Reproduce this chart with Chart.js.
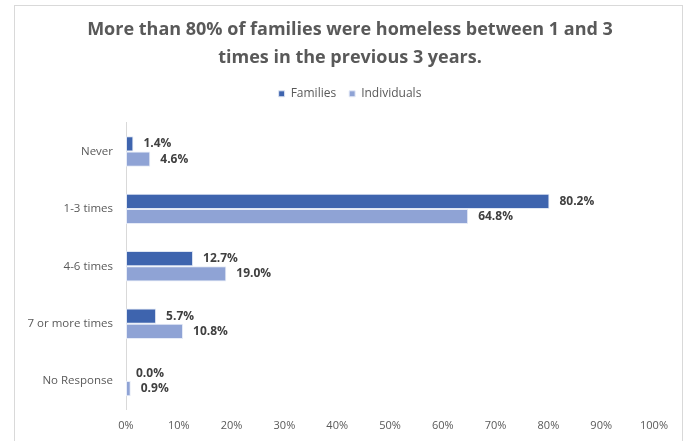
<!DOCTYPE html>
<html><head><meta charset="utf-8">
<script src="https://cdn.jsdelivr.net/npm/chart.js@4/dist/chart.umd.min.js"></script>
<style>
html,body{margin:0;padding:0;background:#fff;}
#wrap{position:relative;width:687px;height:441px;overflow:hidden;}
#frame{position:absolute;left:14px;top:5px;width:669px;height:460px;border:1px solid #d9d9d9;box-sizing:border-box;}
canvas{position:absolute;left:0;top:0;}
</style></head>
<body>
<div id="wrap"><div id="frame"></div><canvas id="c" width="687" height="441"></canvas></div>
<script>
const categories = ["Never", "1-3 times", "4-6 times", "7 or more times", "No Response"];
const families = [1.4, 80.2, 12.7, 5.7, 0.0];
const individuals = [4.6, 64.8, 19.0, 10.8, 0.9];
const xTicks = [0, 10, 20, 30, 40, 50, 60, 70, 80, 90, 100];
const titleLines = ["More than 80% of families were homeless between 1 and 3", "times in the previous 3 years."];

const labelPlugin = {
  id: 'barLabels',
  afterDatasetsDraw(chart) {
    const ctx = chart.ctx;
    ctx.save();
    ctx.font = 'bold 12px "Open Sans", sans-serif';
    ctx.fillStyle = '#404040';
    ctx.textBaseline = 'middle';
    ctx.textAlign = 'left';
    chart.data.datasets.forEach((ds, di) => {
      const meta = chart.getDatasetMeta(di);
      meta.data.forEach((bar, i) => {
        ctx.fillText(ds.data[i].toFixed(1) + '%', bar.x + 10, bar.y);
      });
    });
    ctx.restore();
  }
};

const layoutTweaks = {
  id: 'layoutTweaks',
  beforeInit(chart) {
    const lg = chart.legend;
    if (lg) {
      const orig = lg.fit;
      lg.fit = function () { orig.call(this); this.height += 13; };
    }
  },
  afterLayout(chart) {
    // let the category labels extend left of the axis box without being clipped
    chart.scales.y.left = 0;
  }
};

new Chart(document.getElementById('c'), {
  type: 'bar',
  data: {
    labels: categories,
    datasets: [
      { label: 'Families', data: families, backgroundColor: '#3E64AE', borderColor: '#dfe6f3', borderWidth: 1, borderSkipped: false },
      { label: 'Individuals', data: individuals, backgroundColor: '#8FA3D5', borderColor: '#e6ebf7', borderWidth: 1, borderSkipped: false }
    ]
  },
  options: {
    indexAxis: 'y',
    responsive: false,
    animation: false,
    devicePixelRatio: 1,
    layout: { padding: { left: 46, right: 33, top: 0, bottom: 0 } },
    datasets: { bar: { barPercentage: 1.0, categoryPercentage: 0.53 } },
    scales: {
      x: {
        min: 0, max: 100,
        afterBuildTicks(scale) { scale.ticks = xTicks.map(v => ({ value: v })); },
        grid: { display: false, drawTicks: false },
        border: { display: false },
        ticks: { callback: v => v + '%', color: '#595959', font: { family: '"Open Sans", sans-serif', size: 11 }, padding: 9, maxRotation: 0, autoSkip: false }
      },
      y: {
        afterFit(scale) { scale.width = 80; },
        grid: { display: false, drawTicks: false },
        border: { display: true, color: '#d9d9d9', width: 1 },
        ticks: { color: '#595959', font: { family: '"Open Sans", sans-serif', size: 11.5 }, padding: 13 }
      }
    },
    plugins: {
      title: {
        display: true,
        text: titleLines,
        color: '#595959',
        font: { family: '"Open Sans", sans-serif', size: 18, weight: 'bold', lineHeight: 1.55 },
        padding: { top: 16, bottom: 3 }
      },
      legend: {
        position: 'top',
        labels: { boxWidth: 6, boxHeight: 6, color: '#595959', font: { family: '"Open Sans", sans-serif', size: 12 }, padding: 13 }
      },
      tooltip: { enabled: false }
    }
  },
  plugins: [labelPlugin, layoutTweaks]
});
</script>
</body></html>
